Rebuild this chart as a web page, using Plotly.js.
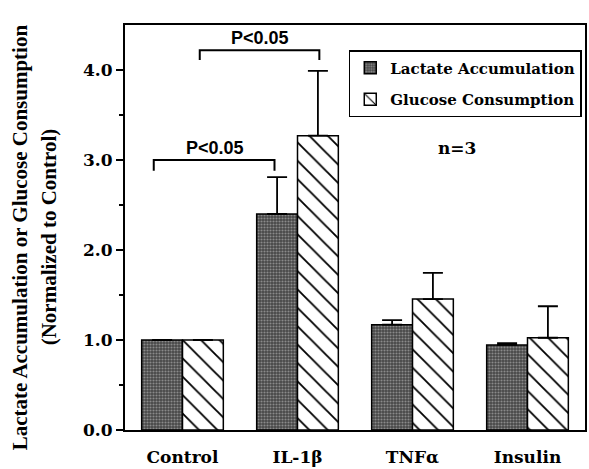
<!DOCTYPE html>
<html>
<head>
<meta charset="utf-8">
<script src="https://cdn.plot.ly/plotly-3.0.1.min.js"></script>
<style>html,body{margin:0;padding:0;background:#fff;}#chart{width:589px;height:469px;}</style>
</head>
<body>
<div id="chart"></div>
<script>
const categories = ["Control", "IL-1β", "TNFα", "Insulin"];
const lactate = [1.0, 2.40, 1.17, 0.945];
const lactateErr = [0, 0.41, 0.05, 0.02];
const glucose = [1.0, 3.27, 1.455, 1.025];
const glucoseErr = [0, 0.72, 0.29, 0.35];
const seriesNames = ["Lactate Accumulation", "Glucose Consumption"];
const yTickVals = [0, 1, 2, 3, 4];
const yTickText = ["0.0", "1.0", "2.0", "3.0", "4.0"];

const wideSerif = "DejaVu Serif, serif";
const serif = "Liberation Serif, Times New Roman, serif";
const sans = "Liberation Sans, Arial, sans-serif";

const traces = [
  {
    type: "bar", name: seriesNames[0], legendgroup: "a", x: categories, y: lactate,
    marker: {color: "#555", line: {color: "#000", width: 1.5},
      pattern: {shape: ".", fgcolor: "#8a8a8a", bgcolor: "#474747", size: 3, solidity: 0.4}},
    error_y: {type: "data", array: lactateErr, symmetric: false, arrayminus: [0,0,0,0], color: "#000", thickness: 1.8, width: 10, visible: true}
  },
  {
    type: "bar", name: seriesNames[1], legendgroup: "b", x: categories, y: glucose,
    marker: {color: "#fff", line: {color: "#000", width: 1.5},
      pattern: {shape: "\\", fgcolor: "#000", bgcolor: "#fff", size: 13, solidity: 0.14}},
    error_y: {type: "data", array: glucoseErr, symmetric: false, arrayminus: [0,0,0,0], color: "#000", thickness: 1.8, width: 10, visible: true}
  }
];

const layout = {
  width: 589, height: 469,
  margin: {l: 125, r: 4, t: 25, b: 39},
  paper_bgcolor: "#fff", plot_bgcolor: "#fff",
  barmode: "group", bargap: 0.29, bargroupgap: 0,
  showlegend: true,
  legend: {x: 0.993, xanchor: "right", y: 0.938, yanchor: "top",
    bordercolor: "#000", borderwidth: 1.5, bgcolor: "#fff", tracegroupgap: 9,
    font: {family: wideSerif, size: 15, color: "#000", weight: "bold"}},
  xaxis: {type: "category", showline: true, linecolor: "#000", linewidth: 2, mirror: true,
    ticks: "", ticklabelstandoff: 11,
    tickfont: {family: wideSerif, size: 17, color: "#000", weight: "bold"}, showgrid: false, zeroline: false},
  yaxis: {range: [0, 4.5], showline: true, linecolor: "#000", linewidth: 2, mirror: true,
    tickvals: yTickVals, ticktext: yTickText,
    ticks: "outside", ticklen: 7, tickwidth: 1.5, tickcolor: "#000",
    minor: {tickvals: [0.5, 1.5, 2.5, 3.5], ticks: "outside", ticklen: 4, tickwidth: 1.5, tickcolor: "#000"},
    tickfont: {family: wideSerif, size: 17, color: "#000", weight: "bold"},
    showgrid: false, zeroline: false},
  shapes: [
    {type: "path", xref: "x", yref: "y", path: "M 0.15 4.11 L 0.15 4.22 L 1.19 4.22 L 1.19 4.11", line: {color: "#000", width: 2}},
    {type: "path", xref: "x", yref: "y", path: "M -0.25 2.88 L -0.25 3.0 L 0.8 3.0 L 0.8 2.88", line: {color: "#000", width: 2}}
  ],
  annotations: [
    {xref: "x", yref: "y", x: 0.67, y: 4.36, text: "P<0.05", showarrow: false,
      font: {family: sans, size: 18, color: "#000", weight: "bold"}},
    {xref: "x", yref: "y", x: 0.28, y: 3.13, text: "P<0.05", showarrow: false,
      font: {family: sans, size: 18, color: "#000", weight: "bold"}},
    {xref: "x", yref: "y", x: 2.39, y: 3.13, text: "n=3", showarrow: false,
      font: {family: wideSerif, size: 17, color: "#000", weight: "bold"}},
    {xref: "paper", yref: "paper", x: -0.228, y: 0.476, xanchor: "center", yanchor: "middle",
      text: "Lactate Accumulation or Glucose Consumption",
      textangle: -90, showarrow: false,
      font: {family: serif, size: 21, color: "#000", weight: "bold"}},
    {xref: "paper", yref: "paper", x: -0.165, y: 0.476, xanchor: "center", yanchor: "middle",
      text: "(Normalized to Control)",
      textangle: -90, showarrow: false,
      font: {family: serif, size: 21, color: "#000", weight: "bold"}}
  ]
};

Plotly.newPlot("chart", traces, layout, {displayModeBar: false, staticPlot: true});
</script>
</body>
</html>
